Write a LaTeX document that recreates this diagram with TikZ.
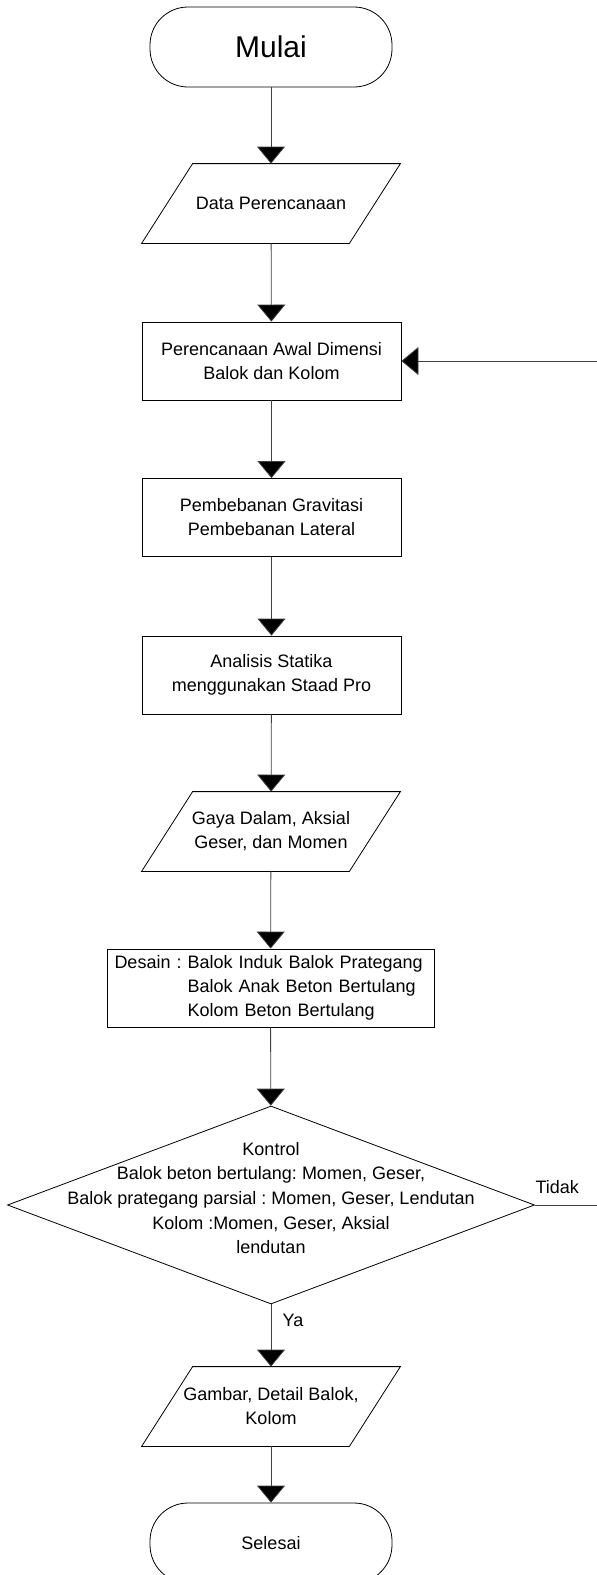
\documentclass[tikz,border=0pt]{standalone}
\usepackage{fontspec}
\setmainfont{Liberation Sans}
\usetikzlibrary{shapes.geometric,arrows.meta}

\begin{document}
\frenchspacing
\begin{tikzpicture}[x=1pt,y=-1pt,line width=0.8pt,
    >={Triangle[width=28pt,length=17pt,fill=black]},
    teks/.style={font=\fontsize{18}{24}\selectfont, align=center},
    terminal/.style={teks, draw, rectangle, rounded corners=38pt, minimum width=242pt, minimum height=80pt},
    proses/.style={teks, draw, rectangle, minimum width=259pt, minimum height=78pt, inner sep=0pt},
    io/.style={teks, rectangle, minimum width=207pt, minimum height=79pt, inner sep=0pt,
        append after command={\pgfextra{\draw
            ([xshift=-25.5pt]\tikzlastnode.south west) -- ([xshift=-25.5pt]\tikzlastnode.south east)
            -- ([xshift=25.5pt]\tikzlastnode.north east) -- ([xshift=25.5pt]\tikzlastnode.north west) -- cycle;}}},
    alur/.style={->, draw=black!75}]
    \useasboundingbox (0,0) rectangle (597,1575);
    % bentuk
    \node[terminal, font=\fontsize{30}{36}\selectfont] (mulai) at (271,47) {Mulai};
    \node[io] (data) at (271,203.5) {Data Perencanaan};
    \node[proses] (awal) at (271.5,361) {Perencanaan Awal Dimensi\\Balok dan Kolom};
    \node[proses] (beban) at (271.5,517.5) {Pembebanan Gravitasi\\Pembebanan Lateral};
    \node[proses] (analisis) at (271.5,675) {Analisis Statika\\menggunakan Staad Pro};
    \node[io] (gaya) at (271,831.5) {Gaya Dalam, Aksial\\Geser, dan Momen};
    \node[proses, minimum width=327pt, text width=312pt, align=left] (desain) at (270.5,988)
        {Desain : Balok Induk Balok Prategang\\
         \phantom{Desain : }Balok Anak Beton Bertulang\\
         \phantom{Desain : }Kolom Beton Bertulang};
    \node[draw, diamond, minimum width=527pt, minimum height=198pt, inner sep=0pt] (kontrol) at (271,1205) {};
    \node[teks, font=\fontsize{18}{24.7}\selectfont] (kontrolteks) at (271,1198)
        {Kontrol\\Balok beton bertulang: Momen, Geser,\\Balok prategang parsial : Momen, Geser, Lendutan\\Kolom :Momen, Geser, Aksial\\lendutan};
    \node[io] (gambar) at (271,1406.5) {Gambar, Detail Balok,\\Kolom};
    \node[terminal] (selesai) at (271,1543) {Selesai};
    \coordinate (tidakujung) at (597,1205);
    \coordinate (balikujung) at (597,361);
    % alur
    \draw[alur] (mulai) -- (data);
    \draw[alur] (data) -- (awal);
    \draw[alur] (awal) -- (beban);
    \draw[alur] (beban) -- (analisis);
    \draw[alur] (analisis) -- (gaya);
    \draw[alur] (gaya) -- (desain);
    \draw[alur] (desain) -- (kontrol);
    \draw[alur] (kontrol) -- node[teks, pos=0.25, right=8pt] {Ya} (gambar);
    \draw[alur] (gambar) -- (selesai);
    \draw[alur, -] (kontrol.east) -- node[teks, pos=0, anchor=south west, xshift=-3pt, yshift=8pt] {Tidak} (tidakujung);
    \draw[alur] (balikujung) -- (awal.east);
\end{tikzpicture}
\end{document}
